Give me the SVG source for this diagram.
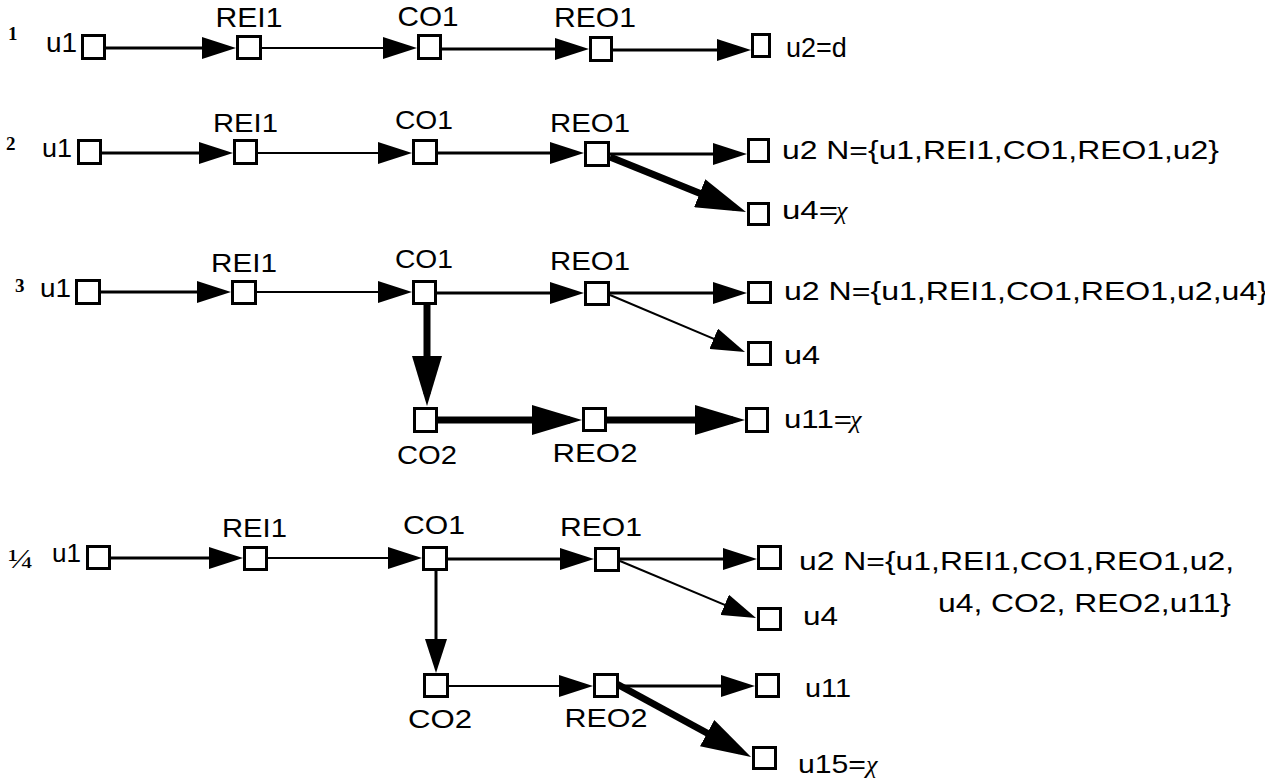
<svg xmlns="http://www.w3.org/2000/svg" width="1265" height="779" viewBox="0 0 1265 779">
<style>
.box{fill:#fff;stroke:#000;stroke-width:3}
.c{stroke:#000;fill:none;stroke-width:3}
.t{stroke-width:2}
.k{stroke-width:7}
.lb{font-family:"Liberation Sans",Arial,sans-serif;font-size:26px;fill:#000}
.m{text-anchor:middle}
.num{font-family:"Liberation Serif","Times New Roman",serif;font-weight:bold;font-size:19px;fill:#000}
.chi{font-family:"Liberation Serif","Times New Roman",serif;font-style:italic}
</style>
<defs>
<marker id="ah" markerUnits="userSpaceOnUse" markerWidth="34" markerHeight="22" refX="24" refY="11" orient="auto"><path d="M0,0 L34,11 L0,22 Z" fill="#000"/></marker>
<marker id="ahb" markerUnits="userSpaceOnUse" markerWidth="50" markerHeight="30" refX="38" refY="15" orient="auto"><path d="M0,0 L50,15 L0,30 Z" fill="#000"/></marker>
</defs>
<rect width="1265" height="779" fill="#fff"/>
<g id="connectors">
<path class="c" d="M106,48 L226,48" marker-end="url(#ah)"/>
<path class="c t" d="M262,48 L407,48" marker-end="url(#ah)"/>
<path class="c" d="M442,49 L579,49" marker-end="url(#ah)"/>
<path class="c" d="M613,50 L741,50" marker-end="url(#ah)"/>
<path class="c" d="M102,153 L223,153" marker-end="url(#ah)"/>
<path class="c t" d="M258,153 L402,153" marker-end="url(#ah)"/>
<path class="c" d="M438,153 L574,153" marker-end="url(#ah)"/>
<path class="c" d="M610,154 L737,154" marker-end="url(#ah)"/>
<path class="c k" d="M610,157 L734.9,207.5" marker-end="url(#ahb)"/>
<path class="c" d="M101,292 L221,292" marker-end="url(#ah)"/>
<path class="c t" d="M257,292 L402,292" marker-end="url(#ah)"/>
<path class="c" d="M437,293 L574,293" marker-end="url(#ah)"/>
<path class="c" d="M610,293 L737,293" marker-end="url(#ah)"/>
<path class="c t" d="M610,295 L735.8,348.1" marker-end="url(#ah)"/>
<path class="c k" d="M427,302 L427,394" marker-end="url(#ahb)"/>
<path class="c k" d="M438,420 L570,420" marker-end="url(#ahb)"/>
<path class="c k" d="M607,420 L733,420" marker-end="url(#ahb)"/>
<path class="c" d="M111,558 L233,558" marker-end="url(#ah)"/>
<path class="c t" d="M268,558 L412,558" marker-end="url(#ah)"/>
<path class="c" d="M448,559 L584,559" marker-end="url(#ah)"/>
<path class="c" d="M620,559 L747,559" marker-end="url(#ah)"/>
<path class="c t" d="M620,561 L746.8,614.1" marker-end="url(#ah)"/>
<path class="c" d="M436,571 L436,663" marker-end="url(#ah)"/>
<path class="c t" d="M449,686 L583,686" marker-end="url(#ah)"/>
<path class="c" d="M619,686 L745,686" marker-end="url(#ah)"/>
<path class="c k" d="M615,683 L740.5,751.3" marker-end="url(#ahb)"/>
</g>
<g id="row-numbers">
<text class="num" x="8" y="40">1</text>
<text class="num" x="6" y="150">2</text>
<text class="num" x="15" y="292">3</text>
<text x="8" y="568" style="font-family:'Liberation Serif','Times New Roman',serif;font-size:28px" textLength="25" lengthAdjust="spacingAndGlyphs">¼</text>
</g>
<g id="r1-u1"><rect class="box" x="82.5" y="35.5" width="22" height="23"/><text class="lb" x="46" y="52" style="font-size:28px">u1</text></g>
<g id="r1-REI1"><rect class="box" x="237.5" y="36.5" width="23" height="22"/><text class="lb m" x="249" y="27" style="font-size:28px" textLength="67" lengthAdjust="spacingAndGlyphs">REI1</text></g>
<g id="r1-CO1"><rect class="box" x="418.5" y="35.5" width="22" height="23"/><text class="lb m" x="428" y="26" style="font-size:28px" textLength="61" lengthAdjust="spacingAndGlyphs">CO1</text></g>
<g id="r1-REO1"><rect class="box" x="590.5" y="37.5" width="21" height="23"/><text class="lb m" x="595" y="27" style="font-size:28px" textLength="82" lengthAdjust="spacingAndGlyphs">REO1</text></g>
<g id="r1-u2"><rect class="box" x="752.5" y="34.5" width="17" height="22"/><text class="lb" x="786" y="57" style="font-size:27px">u2=d</text></g>
<g id="r2-u1"><rect class="box" x="78.5" y="140.5" width="22" height="23"/><text class="lb" x="42" y="157" textLength="30" lengthAdjust="spacingAndGlyphs">u1</text></g>
<g id="r2-REI1"><rect class="box" x="234.5" y="140.5" width="22" height="23"/><text class="lb m" x="245.5" y="132" textLength="65" lengthAdjust="spacingAndGlyphs">REI1</text></g>
<g id="r2-CO1"><rect class="box" x="413.5" y="140.5" width="23" height="23"/><text class="lb m" x="424" y="129" textLength="58" lengthAdjust="spacingAndGlyphs">CO1</text></g>
<g id="r2-REO1"><rect class="box" x="585.5" y="142.5" width="23" height="23"/><text class="lb m" x="590" y="132" textLength="80" lengthAdjust="spacingAndGlyphs">REO1</text></g>
<g id="r2-u2"><rect class="box" x="748.5" y="139.5" width="20" height="22"/><text class="lb" x="782" y="159" textLength="437" lengthAdjust="spacingAndGlyphs">u2 N={u1,REI1,CO1,REO1,u2}</text></g>
<g id="r2-u4"><rect class="box" x="748.5" y="203.5" width="20" height="21"/><text class="lb" x="782" y="219" textLength="56" lengthAdjust="spacingAndGlyphs">u4=</text><text class="lb chi" x="836" y="219">χ</text></g>
<g id="r3-u1"><rect class="box" x="76.5" y="280.5" width="23" height="23"/><text class="lb" x="40" y="297" textLength="31" lengthAdjust="spacingAndGlyphs">u1</text></g>
<g id="r3-REI1"><rect class="box" x="232.5" y="281.5" width="23" height="22"/><text class="lb m" x="244" y="272" textLength="66" lengthAdjust="spacingAndGlyphs">REI1</text></g>
<g id="r3-CO1"><rect class="box" x="413.5" y="281.5" width="22" height="22"/><text class="lb m" x="424" y="268" textLength="58" lengthAdjust="spacingAndGlyphs">CO1</text></g>
<g id="r3-REO1"><rect class="box" x="585.5" y="282.5" width="23" height="22"/><text class="lb m" x="590" y="270" textLength="80" lengthAdjust="spacingAndGlyphs">REO1</text></g>
<g id="r3-u2"><rect class="box" x="748.5" y="282.5" width="22" height="20"/><text class="lb" x="784" y="300" textLength="484" lengthAdjust="spacingAndGlyphs">u2 N={u1,REI1,CO1,REO1,u2,u4}</text></g>
<g id="r3-u4"><rect class="box" x="748.5" y="342.5" width="22" height="22"/><text class="lb" x="784" y="364" textLength="36" lengthAdjust="spacingAndGlyphs">u4</text></g>
<g id="r3-CO2"><rect class="box" x="414.5" y="408.5" width="22" height="23"/><text class="lb m" x="427" y="464" textLength="60" lengthAdjust="spacingAndGlyphs">CO2</text></g>
<g id="r3-REO2"><rect class="box" x="583.5" y="408.5" width="22" height="22"/><text class="lb m" x="595" y="462" textLength="85" lengthAdjust="spacingAndGlyphs">REO2</text></g>
<g id="r3-u11"><rect class="box" x="746.5" y="408.5" width="21" height="23"/><text class="lb" x="784" y="428" textLength="68" lengthAdjust="spacingAndGlyphs">u11=</text><text class="lb chi" x="850" y="428">χ</text></g>
<g id="r4-u1"><rect class="box" x="87.5" y="546.5" width="22" height="22"/><text class="lb" x="52" y="562" textLength="29" lengthAdjust="spacingAndGlyphs">u1</text></g>
<g id="r4-REI1"><rect class="box" x="244.5" y="547.5" width="22" height="22"/><text class="lb m" x="254.5" y="537" textLength="65" lengthAdjust="spacingAndGlyphs">REI1</text></g>
<g id="r4-CO1"><rect class="box" x="423.5" y="547.5" width="23" height="22"/><text class="lb m" x="434" y="534" textLength="62" lengthAdjust="spacingAndGlyphs">CO1</text></g>
<g id="r4-REO1"><rect class="box" x="595.5" y="548.5" width="23" height="22"/><text class="lb m" x="601" y="536" textLength="82" lengthAdjust="spacingAndGlyphs">REO1</text></g>
<g id="r4-u2"><rect class="box" x="758.5" y="546.5" width="22" height="22"/><text class="lb" x="799" y="570" textLength="435" lengthAdjust="spacingAndGlyphs">u2 N={u1,REI1,CO1,REO1,u2,</text><text class="lb" x="938" y="612" textLength="293" lengthAdjust="spacingAndGlyphs">u4, CO2, REO2,u11}</text></g>
<g id="r4-u4"><rect class="box" x="758.5" y="608.5" width="22" height="21"/><text class="lb" x="803" y="625" textLength="35" lengthAdjust="spacingAndGlyphs">u4</text></g>
<g id="r4-CO2"><rect class="box" x="424.5" y="674.5" width="23" height="22"/><text class="lb m" x="440" y="728" textLength="64" lengthAdjust="spacingAndGlyphs">CO2</text></g>
<g id="r4-REO2"><rect class="box" x="594.5" y="674.5" width="23" height="22"/><text class="lb m" x="606" y="727" textLength="83" lengthAdjust="spacingAndGlyphs">REO2</text></g>
<g id="r4-u11"><rect class="box" x="756.5" y="674.5" width="22" height="22"/><text class="lb" x="805" y="697" textLength="46" lengthAdjust="spacingAndGlyphs">u11</text></g>
<g id="r4-u15"><rect class="box" x="753.5" y="747.5" width="22" height="21"/><text class="lb" x="798" y="773" textLength="68" lengthAdjust="spacingAndGlyphs">u15=</text><text class="lb chi" x="866" y="773">χ</text></g>
</svg>
